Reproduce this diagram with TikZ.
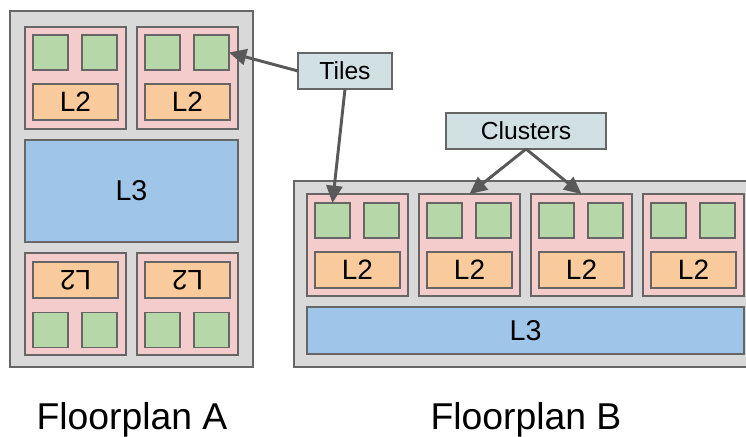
\documentclass[tikz,border=0pt]{standalone}
\usepackage{fontspec}
\setmainfont{Liberation Sans}
\usepackage{tikz}
\usetikzlibrary{arrows.meta}
\definecolor{chipgray}{HTML}{D9D9D9}
\definecolor{edgegray}{HTML}{666666}
\definecolor{tilepink}{HTML}{F4CCCC}
\definecolor{coregreen}{HTML}{B6D7A8}
\definecolor{ltwoorange}{HTML}{F9CB9C}
\definecolor{lthreeblue}{HTML}{9FC5E8}
\definecolor{tagblue}{HTML}{D0E0E3}
\definecolor{arrowgray}{HTML}{595959}

\begin{document}
\begin{tikzpicture}[x=0.75pt,y=0.75pt,yscale=-1,xscale=1,
    box/.style={draw=edgegray, line width=1.1pt, inner sep=0pt, outer sep=0pt},
    chip/.style={box, fill=chipgray},
    tile/.style={box, fill=tilepink, minimum width=75.75pt, minimum height=76.5pt},
    core/.style={box, fill=coregreen, minimum size=26.25pt},
    ltwo/.style={box, fill=ltwoorange, minimum width=63.75pt, minimum height=27pt, font=\fontsize{21}{22}\selectfont},
    lthree/.style={box, fill=lthreeblue, font=\fontsize{21.5}{22}\selectfont},
    tag/.style={box, fill=tagblue, minimum height=27pt, font=\fontsize{18.5}{19}\selectfont},
    pointer/.style={draw=arrowgray, line width=2.2pt, -{Triangle[length=13pt,width=12pt]}},
    caption/.style={font=\fontsize{28}{29}\selectfont}]
        \useasboundingbox (0,0) rectangle (746,436);
        % Floorplan A
        \node[chip, minimum width=182.25pt, minimum height=267pt] (chipA) at (131.5,189) {};
        \foreach \t/\cx in {a1/75.5, a2/187.5} {
            \node[tile] (tile\t) at (\cx,78) {};
            \node[core] (core\t l) at (\cx-25,52.5) {};
            \node[core] (core\t r) at (\cx+24,52.5) {};
            \node[ltwo] (ltwo\t) at (\cx,102) {L2};
        }
        \node[lthree, minimum width=159.75pt, minimum height=76.5pt] (lthreeA) at (131.5,191) {L3};
        % tiles turned upside down
        \foreach \t/\cx in {a3/75.5, a4/187.5} {
            \node[tile] (tile\t) at (\cx,304) {};
            \node[core] (core\t l) at (\cx-25,330) {};
            \node[core] (core\t r) at (\cx+24,330) {};
            \node[ltwo, rotate=180] (ltwo\t) at (\cx,280) {L2};
        }
        % Floorplan B
        \node[chip, minimum width=339.75pt, minimum height=139.5pt] (chipB) at (520.5,274) {};
        \foreach \t/\cx in {b1/357.5, b2/469.5, b3/581.5, b4/693.5} {
            \node[tile] (tile\t) at (\cx,245) {};
            \node[core] (core\t l) at (\cx-25,220.5) {};
            \node[core] (core\t r) at (\cx+24,220.5) {};
            \node[ltwo] (ltwo\t) at (\cx,270) {L2};
        }
        \node[lthree, minimum width=327.75pt, minimum height=35.25pt] (lthreeB) at (525.5,330.5) {L3};
        % Labels
        \node[tag, minimum width=70.5pt] (tiles) at (345,71) {Tiles};
        \node[tag, minimum width=120pt] (clusters) at (526,131) {Clusters};
        \draw[pointer] (tiles.west) -- (corea2r.east);
        \draw[pointer] (tiles.south) -- (coreb1l.north);
        \draw[pointer] (clusters.south) -- (tileb2.north);
        \draw[pointer] (clusters.south) -- (tileb3.north);
        % Captions
        \node[caption, anchor=base] (capA) at (132,429) {Floorplan A};
        \node[caption, anchor=base] (capB) at (526,429) {Floorplan B};
\end{tikzpicture}
\end{document}
